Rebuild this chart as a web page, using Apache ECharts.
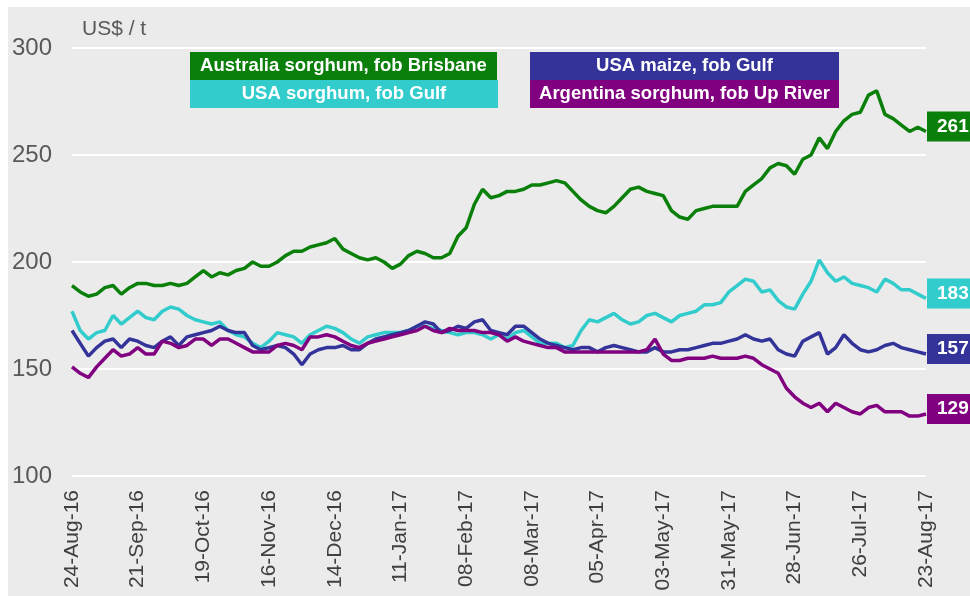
<!DOCTYPE html>
<html>
<head>
<meta charset="utf-8">
<script src="https://cdn.jsdelivr.net/npm/echarts@6/dist/echarts.min.js"></script>
<style>
  html, body { margin: 0; padding: 0; background: #ffffff; }
  #chart { width: 970px; height: 596px; }
</style>
</head>
<body>
<div id="chart"></div>
<script>
// weekly tick labels, one every 28 days from 24-Aug-16
const tickLabels = ['24-Aug-16', '21-Sep-16', '19-Oct-16', '16-Nov-16', '14-Dec-16', '11-Jan-17',
  '08-Feb-17', '08-Mar-17', '05-Apr-17', '03-May-17', '31-May-17', '28-Jun-17', '26-Jul-17', '23-Aug-17']
const stepDays = 3.5 // readings twice a week

const australia = [189, 186, 184, 185, 188, 189, 185, 188, 190, 190,
  189, 189, 190, 189, 190, 193, 196, 193, 195, 194,
  196, 197, 200, 198, 198, 200, 203, 205, 205, 207,
  208, 209, 211, 206, 204, 202, 201, 202, 200, 197,
  199, 203, 205, 204, 202, 202, 204, 212, 216, 227,
  234, 230, 231, 233, 233, 234, 236, 236, 237, 238,
  237, 233, 229, 226, 224, 223, 226, 230, 234, 235,
  233, 232, 231, 224, 221, 220, 224, 225, 226, 226,
  226, 226, 233, 236, 239, 244, 246, 245, 241, 248,
  250, 258, 253, 261, 266, 269, 270, 278, 280, 269,
  267, 264, 261, 263, 261]
const usaSorghum = [177, 168, 164, 167, 168, 175, 171, 174, 177, 174,
  173, 177, 179, 178, 175, 173, 172, 171, 172, 168,
  166, 165, 162, 160, 163, 167, 166, 165, 162, 166,
  168, 170, 169, 167, 164, 162, 165, 166, 167, 167,
  167, 168, 170, 170, 169, 168, 167, 166, 167, 167,
  166, 164, 166, 164, 167, 168, 165, 162, 162, 162,
  160, 161, 168, 173, 172, 174, 176, 173, 171, 172,
  175, 176, 174, 172, 175, 176, 177, 180, 180, 181,
  186, 189, 192, 191, 186, 187, 182, 179, 178, 185,
  191, 201, 195, 191, 193, 190, 189, 188, 186, 192,
  190, 187, 187, 185, 183]
const usaMaize = [168, 162, 156, 160, 163, 164, 160, 164, 163, 161,
  160, 163, 165, 161, 165, 166, 167, 168, 170, 168,
  167, 167, 161, 159, 160, 161, 160, 157, 152, 157,
  159, 160, 160, 161, 159, 159, 162, 164, 165, 166,
  167, 168, 170, 172, 171, 167, 168, 170, 169, 172,
  173, 168, 167, 166, 170, 170, 167, 164, 162, 161,
  160, 159, 160, 160, 158, 160, 161, 160, 159, 158,
  158, 160, 158, 158, 159, 159, 160, 161, 162, 162,
  163, 164, 166, 164, 163, 164, 159, 157, 156, 163,
  165, 167, 157, 160, 166, 162, 159, 158, 159, 161,
  162, 160, 159, 158, 157]
const argentina = [151, 148, 146, 151, 155, 159, 156, 157, 160, 157,
  157, 163, 162, 160, 161, 164, 164, 161, 164, 164,
  162, 160, 158, 158, 158, 161, 162, 161, 159, 165,
  165, 166, 165, 163, 161, 160, 162, 163, 164, 165,
  166, 167, 168, 170, 168, 167, 169, 168, 168, 168,
  167, 167, 166, 163, 165, 163, 162, 161, 160, 160,
  158, 158, 158, 158, 158, 158, 158, 158, 158, 158,
  159, 164, 157, 154, 154, 155, 155, 155, 156, 155,
  155, 155, 156, 155, 152, 150, 148, 141, 137, 134,
  132, 134, 130, 134, 132, 130, 129, 132, 133, 130,
  130, 130, 128, 128, 129]

const seriesNames = ['Australia sorghum, fob Brisbane', 'USA sorghum, fob Gulf', 'USA maize, fob Gulf', 'Argentina sorghum, fob Up River']
const colors = ['#0a7f0a', '#33cccc', '#333399', '#800080']
const FONT = '"Liberation Sans", Arial, sans-serif'

const toXY = arr => arr.map((v, i) => [i * stepDays, v])

const makeSeries = (idx, values) => ({
  name: seriesNames[idx],
  type: 'line',
  data: toXY(values),
  showSymbol: false,
  lineStyle: {color: colors[idx], width: 3.5},
  itemStyle: {color: colors[idx]},
  endLabel: {
    show: true,
    color: '#fff',
    fontWeight: 'bold',
    fontSize: 19,
    fontFamily: FONT,
    backgroundColor: colors[idx],
    padding: [6, 12, 5, 10],
    distance: 1,
    offset: [0, -5],
    formatter: p => p.value[1]
  }
})

// coloured key boxes
const legendBox = (idx, left, top, width) => ({
  type: 'group',
  left: left,
  top: top,
  children: [
    {type: 'rect', shape: {x: 0, y: 0, width: width, height: 28}, style: {fill: colors[idx]}},
    {
      type: 'text', x: width / 2, y: 14,
      style: {text: seriesNames[idx], fill: '#fff', font: 'bold 18.5px ' + FONT, textAlign: 'center', textVerticalAlign: 'middle'}
    }
  ]
})

const myChart = echarts.init(document.getElementById('chart'))
myChart.setOption({
  animation: false,
  title: {
    text: 'US$ / t',
    left: 77,
    top: 14,
    textStyle: {color: '#595959', fontSize: 21, fontWeight: 'normal', fontFamily: FONT}
  },
  graphic: [
    {type: 'rect', left: 8, top: 7, z: -100, shape: {width: 962, height: 589}, style: {fill: '#ebebeb'}},
    legendBox(0, 190, 52, 307),
    legendBox(1, 190, 80, 308),
    legendBox(2, 530, 52, 309),
    legendBox(3, 530, 80, 309)
  ],
  grid: {left: 72, right: 44, top: 48, bottom: 120},
  xAxis: {
    type: 'value',
    min: 0,
    max: 364,
    interval: 28,
    axisLine: {show: false},
    axisTick: {show: false},
    splitLine: {show: false},
    axisLabel: {
      rotate: 90,
      margin: 14,
      color: '#404040',
      fontSize: 21,
      fontFamily: FONT,
      formatter: v => tickLabels[Math.round(v / 28)]
    }
  },
  yAxis: {
    type: 'value',
    min: 100,
    max: 300,
    interval: 50,
    axisLine: {show: false},
    axisTick: {show: false},
    splitLine: {lineStyle: {color: '#ffffff', width: 2}},
    axisLabel: {color: '#595959', fontSize: 24, fontFamily: FONT, margin: 20}
  },
  series: [
    makeSeries(0, australia),
    makeSeries(1, usaSorghum),
    makeSeries(2, usaMaize),
    makeSeries(3, argentina)
  ]
})
</script>
</body>
</html>
